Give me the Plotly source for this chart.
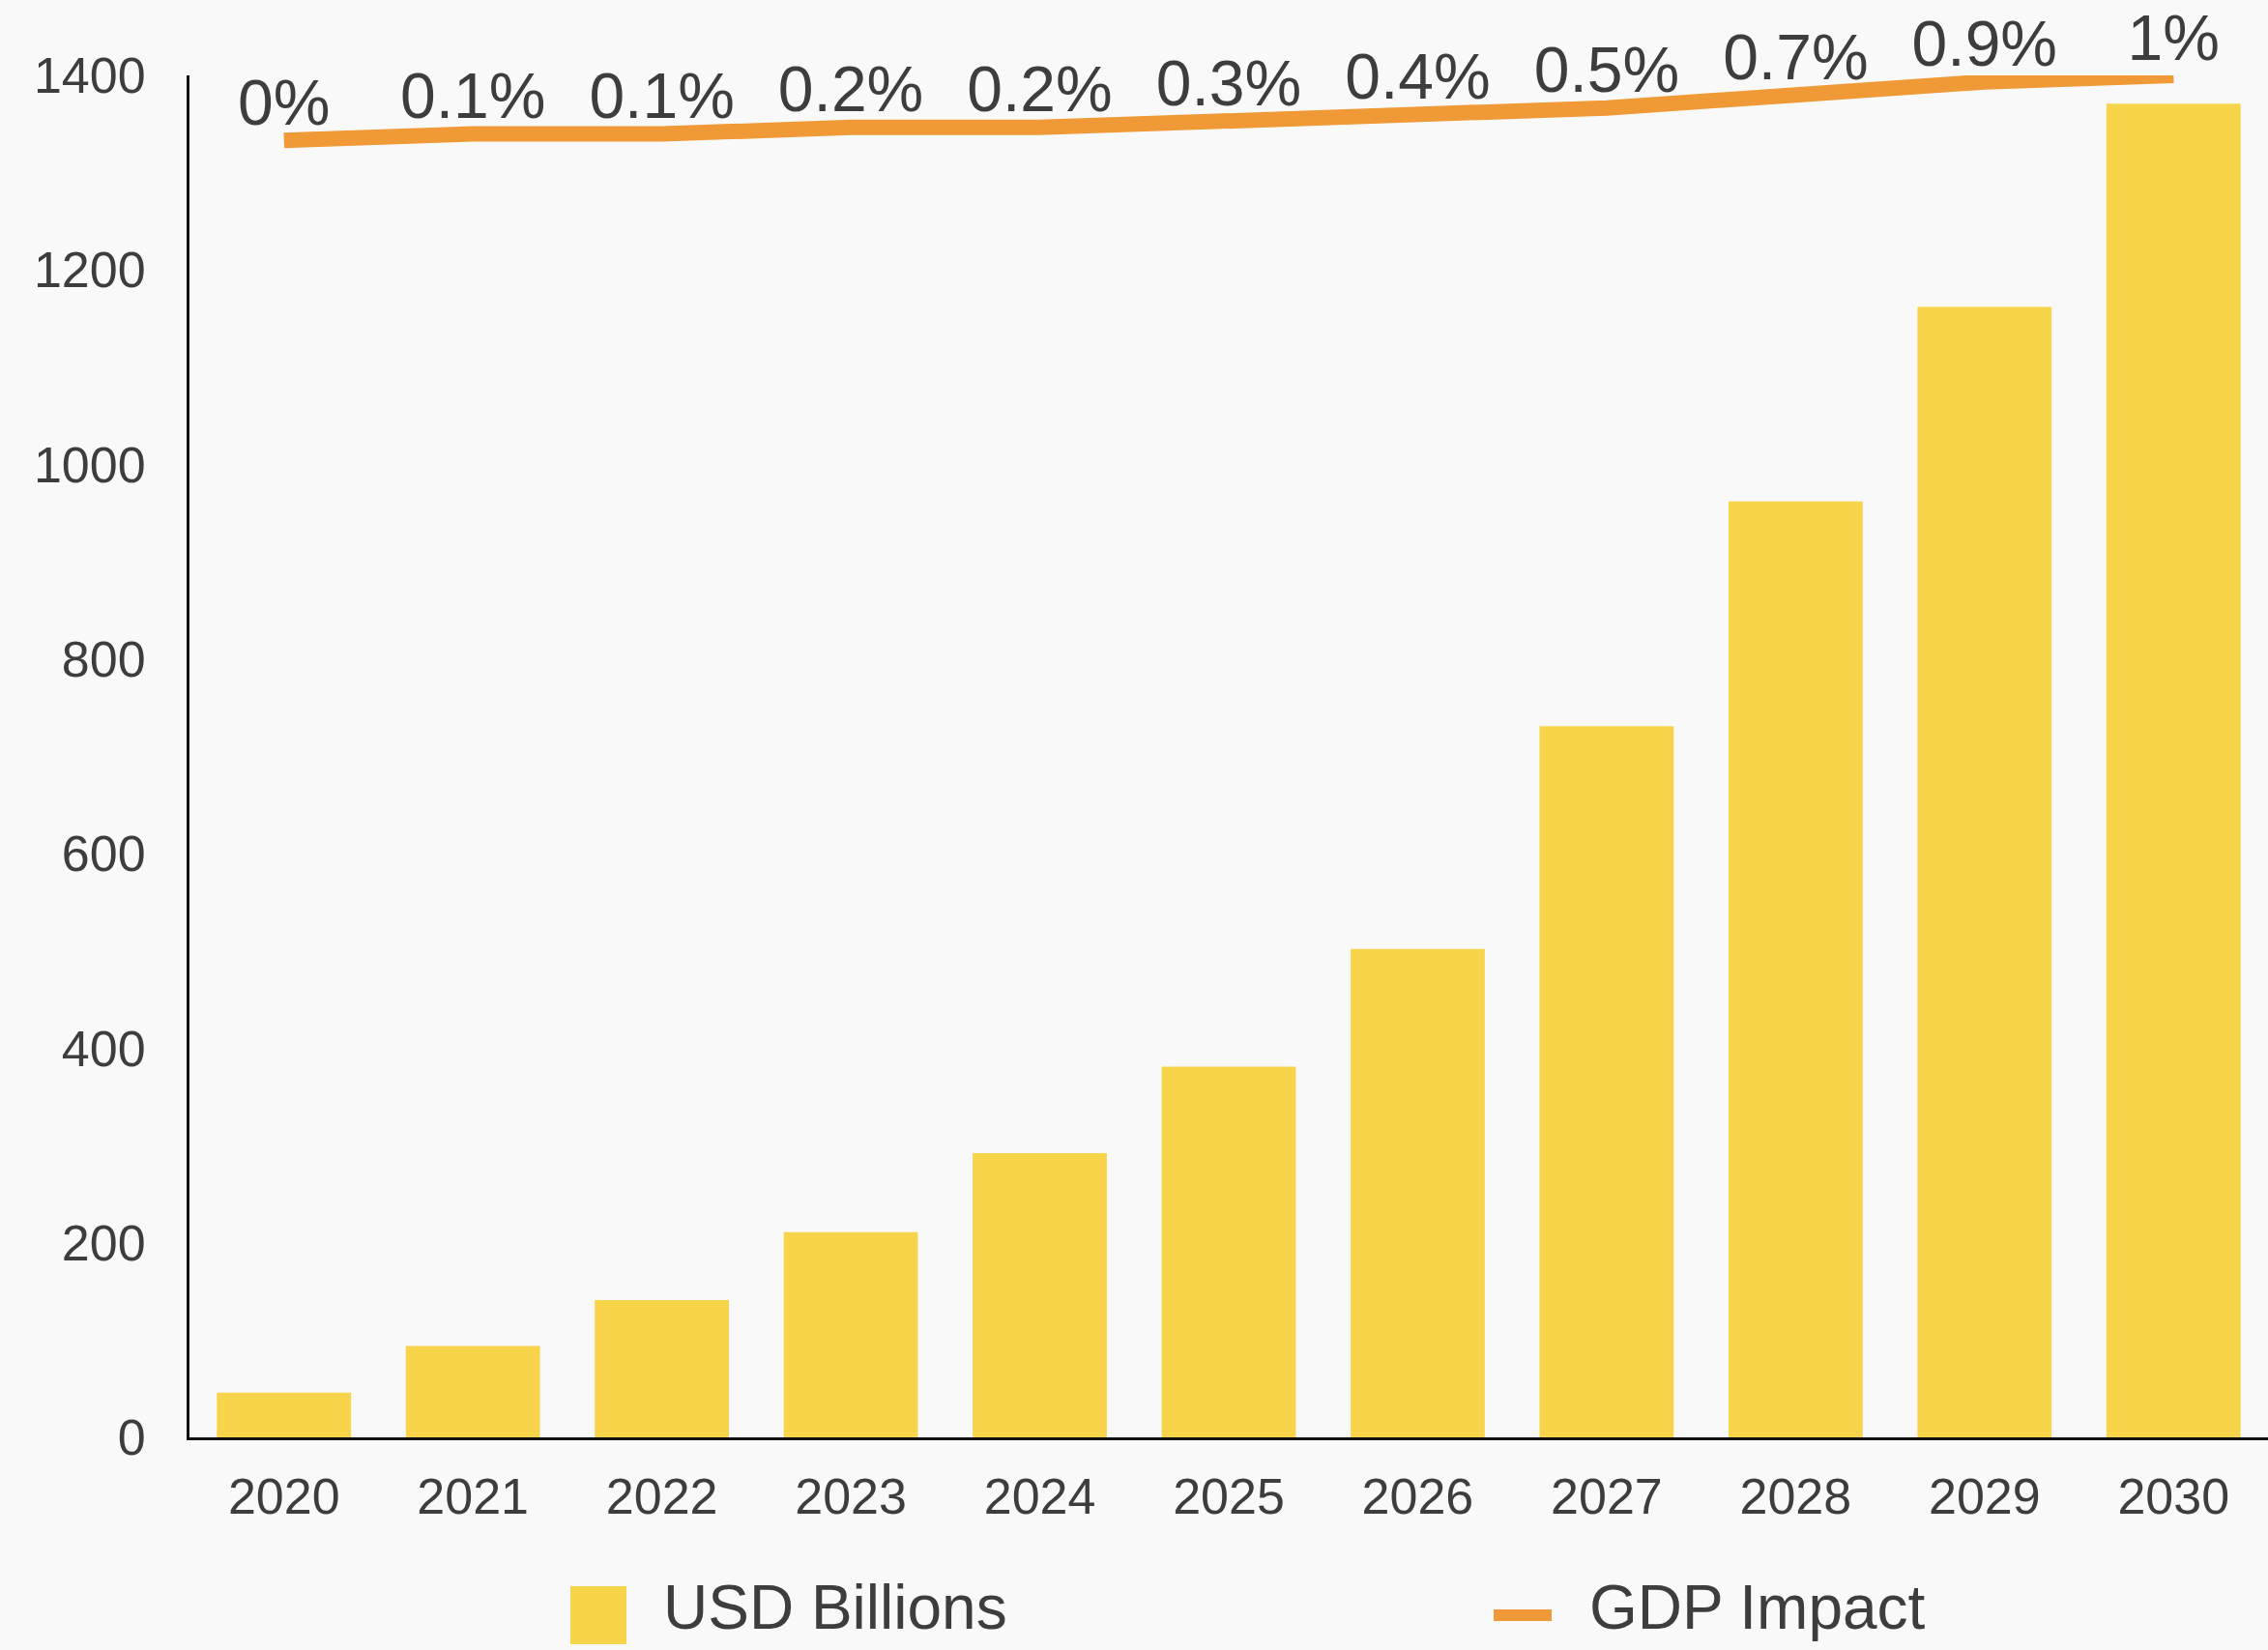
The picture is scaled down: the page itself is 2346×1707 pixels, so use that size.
import plotly.graph_objects as go

years = ["2020", "2021", "2022", "2023", "2024", "2025", "2026", "2027", "2028", "2029", "2030"]
usd_billions = [46, 94, 141, 211, 292, 381, 502, 731, 962, 1162, 1371]
gdp_impact = [0, 0.1, 0.1, 0.2, 0.2, 0.3, 0.4, 0.5, 0.7, 0.9, 1]
y_ticks = [0, 200, 400, 600, 800, 1000, 1200, 1400]

W, H = 2346, 1707
L, R, T, B = 196, 0, 78, 220
PW, PH = W - L - R, H - T - B

BAR = "#F8D44A"
LINE = "#EF9A36"
TXT = "#3d3d3d"
FONT = "Liberation Sans"

def px(x):
    return (x - L) / PW

def py(y):
    return (H - B - y) / PH

fig = go.Figure()
fig.add_trace(go.Bar(x=years, y=usd_billions, marker=dict(color=BAR, line=dict(width=0)),
                     name="USD Billions", showlegend=False))
fig.add_trace(go.Scatter(x=years, y=gdp_impact, mode="lines+text", yaxis="y2",
                         line=dict(color=LINE, width=16),
                         text=[f"{v:g}%" for v in gdp_impact], textposition="top center",
                         textfont=dict(size=66, color=TXT, family=FONT),
                         cliponaxis=False, name="GDP Impact", showlegend=False))

# y2 scale: 0% sits just below the top of the plot, 1% at the top edge
y2_bottom = -19.93
fig.update_layout(
    width=W, height=H,
    margin=dict(l=L, r=R, t=T, b=B, pad=0),
    paper_bgcolor="#f9f9f9", plot_bgcolor="#f9f9f9",
    bargap=0.29,
    font=dict(family=FONT, color=TXT, size=48),
    xaxis=dict(range=[-0.5, 10.5], showline=True, linecolor="#111", linewidth=3, ticks="",
               showgrid=False, tickfont=dict(size=52, color=TXT), ticklabelstandoff=14,
               zeroline=False),
    yaxis=dict(range=[0, 1400], tickvals=y_ticks, showline=True, linecolor="#111", linewidth=3,
               ticks="", showgrid=False, zeroline=False, tickfont=dict(size=52, color=TXT),
               ticklabelstandoff=32),
    yaxis2=dict(range=[y2_bottom, 1.0], overlaying="y", side="right", visible=False),
    showlegend=False,
)

# Custom legend
fig.add_shape(type="rect", xref="paper", yref="paper",
              x0=px(590), x1=px(648), y0=py(1701), y1=py(1641),
              fillcolor=BAR, line=dict(width=0), layer="above")
fig.add_annotation(xref="paper", yref="paper", x=px(684), y=py(1663), text="USD Billions",
                   showarrow=False, xanchor="left", yanchor="middle",
                   font=dict(size=64, color=TXT, family=FONT))
fig.add_shape(type="line", xref="paper", yref="paper",
              x0=px(1545), x1=px(1605), y0=py(1671), y1=py(1671),
              line=dict(color=LINE, width=12), layer="above")
fig.add_annotation(xref="paper", yref="paper", x=px(1642), y=py(1663), text="GDP Impact",
                   showarrow=False, xanchor="left", yanchor="middle",
                   font=dict(size=64, color=TXT, family=FONT))

fig.write_html("out.html")
